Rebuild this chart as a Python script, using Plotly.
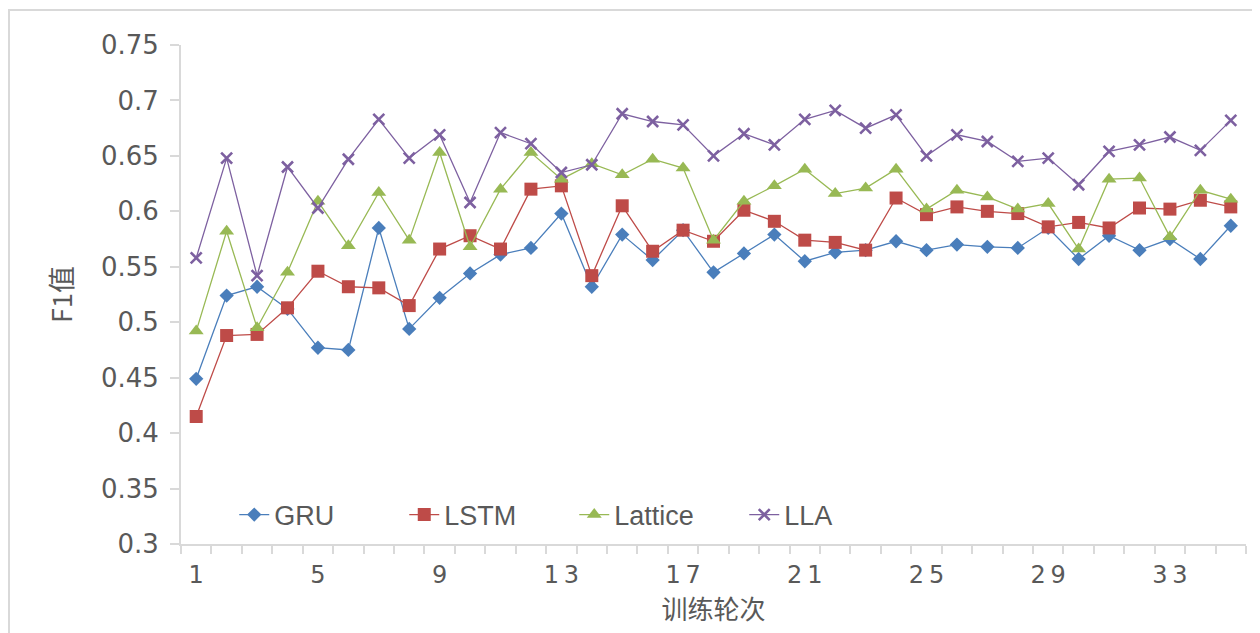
import plotly.graph_objects as go

epochs = list(range(1, 36))
tick_vals = [1, 5, 9, 13, 17, 21, 25, 29, 33]
tick_text = ["1", "5", "9", "1\u20093", "1\u20097", "2\u20091", "2\u20095", "2\u20099", "3\u20093"]

gru = [0.449, 0.524, 0.532, 0.512, 0.477, 0.475, 0.585, 0.494, 0.522, 0.544,
       0.561, 0.567, 0.598, 0.532, 0.579, 0.556, 0.583, 0.545, 0.562, 0.579,
       0.555, 0.563, 0.565, 0.573, 0.565, 0.570, 0.568, 0.567, 0.585, 0.557,
       0.578, 0.565, 0.575, 0.557, 0.587]
lstm = [0.415, 0.488, 0.489, 0.513, 0.546, 0.532, 0.531, 0.515, 0.566, 0.578,
        0.566, 0.620, 0.623, 0.542, 0.605, 0.564, 0.583, 0.573, 0.601, 0.591,
        0.574, 0.572, 0.565, 0.612, 0.597, 0.604, 0.600, 0.598, 0.586, 0.590,
        0.585, 0.603, 0.602, 0.610, 0.604]
lattice = [0.492, 0.582, 0.495, 0.545, 0.609, 0.569, 0.617, 0.574, 0.653, 0.568,
           0.620, 0.653, 0.629, 0.643, 0.633, 0.647, 0.639, 0.574, 0.609, 0.623,
           0.638, 0.616, 0.621, 0.638, 0.602, 0.619, 0.613, 0.602, 0.607, 0.566,
           0.629, 0.630, 0.577, 0.619, 0.611]
lla = [0.558, 0.648, 0.542, 0.640, 0.603, 0.647, 0.683, 0.648, 0.669, 0.608,
       0.671, 0.661, 0.635, 0.642, 0.688, 0.681, 0.678, 0.650, 0.670, 0.660,
       0.683, 0.691, 0.675, 0.687, 0.650, 0.669, 0.663, 0.645, 0.648, 0.624,
       0.654, 0.660, 0.667, 0.655, 0.682]

series = [
    ("GRU", gru, "#4A7EBB", "diamond", 11),
    ("LSTM", lstm, "#BE4B48", "square", 13),
    ("Lattice", lattice, "#98B954", "triangle-up", 13),
    ("LLA", lla, "#7D60A0", "x-thin", 11),
]

fig = go.Figure()
for name, vals, color, sym, size in series:
    marker = dict(symbol=sym, size=size, color=color)
    if sym == "x-thin":
        marker["line"] = dict(color=color, width=2.6)
    fig.add_trace(go.Scatter(
        x=epochs, y=vals, name=name, mode="lines+markers",
        line=dict(color=color, width=1.3), marker=marker,
    ))

tick_font = "DejaVu Sans, Open Sans, sans-serif"
txt = "#595959"

fig.update_layout(
    width=1252, height=625,
    paper_bgcolor="white", plot_bgcolor="white",
    margin=dict(l=173, r=14, t=37, b=89),
    font=dict(family=tick_font, color=txt, size=24),
    showlegend=True,
    legend=dict(
        orientation="h", x=0.05, y=0.058, xanchor="left", yanchor="middle",
        bgcolor="rgba(0,0,0,0)", font=dict(size=27, color=txt,
        family="Liberation Sans, Open Sans, sans-serif"),
        itemwidth=30, tracegroupgap=0,
        entrywidth=125, entrywidthmode="pixels",
    ),
    xaxis=dict(
        range=[0.5, 35.5], tickmode="array", tickvals=tick_vals, ticktext=tick_text,
        ticks="", showgrid=False, zeroline=False,
        showline=True, linecolor="#d9d9d9", linewidth=2,
        tickfont=dict(size=24, color=txt, family=tick_font),
        ticklabelstandoff=8,
        minor=dict(tick0=0.5, dtick=1, ticks="outside", ticklen=8,
                   tickcolor="#d9d9d9", tickwidth=2, showgrid=False),
        title=dict(text="训练轮次", font=dict(size=26, color=txt,
                   family="Noto Sans CJK SC, sans-serif"), standoff=0),
    ),
    yaxis=dict(
        range=[0.3, 0.75], tickmode="array",
        tickvals=[0.3, 0.35, 0.4, 0.45, 0.5, 0.55, 0.6, 0.65, 0.7, 0.75],
        ticktext=["0.3", "0.35", "0.4", "0.45", "0.5", "0.55", "0.6", "0.65", "0.7", "0.75"],
        ticks="outside", ticklen=9, tickcolor="#d9d9d9", tickwidth=2,
        showgrid=False, zeroline=False,
        showline=True, linecolor="#d9d9d9", linewidth=2,
        tickfont=dict(size=26, color=txt, family=tick_font),
        ticklabelstandoff=6,
        title=dict(text="F1值", font=dict(size=27, color=txt,
                   family="Noto Sans CJK SC, sans-serif"), standoff=20),
    ),
    shapes=[dict(type="rect", xref="paper", yref="paper",
                 x0=-0.1615, x1=1.1, y0=-0.4, y1=1.07,
                 line=dict(color="#d9d9d9", width=2), fillcolor="rgba(0,0,0,0)",
                 layer="below")],
)

fig.write_html("out.html")
